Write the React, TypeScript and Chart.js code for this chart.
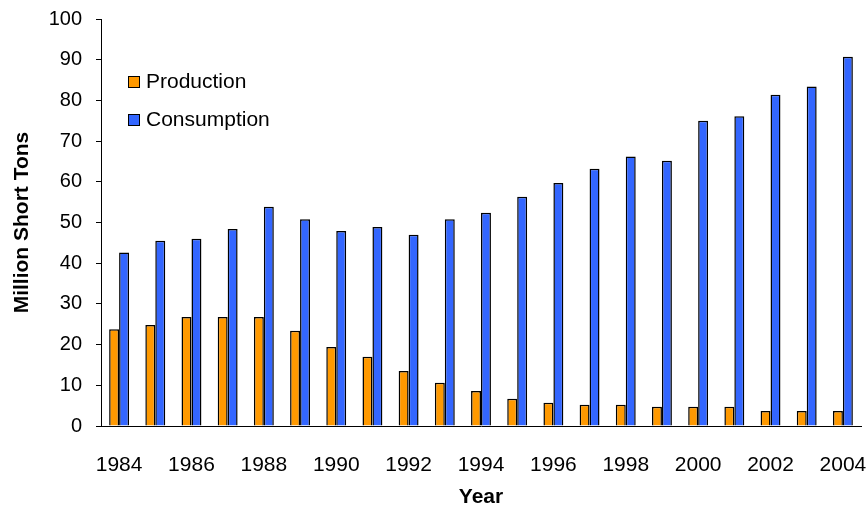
import React, { useEffect, useRef } from "react";
import { Chart, registerables } from "chart.js";

Chart.register(...registerables);

const years = [
  "1984", "1985", "1986", "1987", "1988", "1989", "1990", "1991", "1992", "1993", "1994",
  "1995", "1996", "1997", "1998", "1999", "2000", "2001", "2002", "2003", "2004",
];
const production = [
  23.8, 24.8, 26.8, 26.8, 26.8, 23.4, 19.4, 17.0, 13.5, 10.6, 8.6,
  6.7, 5.7, 5.2, 5.2, 4.7, 4.7, 4.7, 3.7, 3.7, 3.7,
];
const consumption = [
  42.6, 45.5, 46.0, 48.4, 53.9, 50.8, 47.9, 48.9, 47.0, 50.8, 52.4,
  56.3, 59.7, 63.2, 66.2, 65.2, 75.0, 76.1, 81.4, 83.4, 90.7,
];
const seriesNames = ["Production", "Consumption"];
const seriesColors = ["#FF9900", "#3366FF"];
const yMin = 0;
const yMax = 100;
const yStep = 10;
const xTitle = "Year";
const yTitle = "Million Short Tons";

const FONT = "'Liberation Sans', Arial, sans-serif";

const insideLegend = {
  id: "insideLegend",
  afterDraw(chart: any) {
    const ctx = chart.ctx;
    ctx.save();
    ctx.font = `21px ${FONT}`;
    ctx.textBaseline = "middle";
    ctx.textAlign = "left";
    chart.data.datasets.forEach((ds: any, i: number) => {
      const cy = 82 + i * 38;
      ctx.fillStyle = ds.backgroundColor;
      ctx.fillRect(128, cy - 6, 12, 12);
      ctx.strokeStyle = "#000";
      ctx.lineWidth = 1;
      ctx.strokeRect(128.5, cy - 5.5, 11, 11);
      ctx.fillStyle = "#000";
      ctx.fillText(ds.label, 146, cy);
    });
    ctx.restore();
  },
};

export default function App() {
  const ref = useRef<HTMLCanvasElement | null>(null);

  useEffect(() => {
    if (!ref.current) return;
    const chart = new Chart(ref.current, {
      type: "bar",
      data: {
        labels: years,
        datasets: [
          {
            label: seriesNames[0],
            data: production,
            backgroundColor: seriesColors[0],
            borderColor: "#000",
            borderWidth: 1.5,
            categoryPercentage: 0.55,
            barPercentage: 1,
          },
          {
            label: seriesNames[1],
            data: consumption,
            backgroundColor: seriesColors[1],
            borderColor: "#000",
            borderWidth: 1.5,
            categoryPercentage: 0.55,
            barPercentage: 1,
          },
        ],
      },
      options: {
        responsive: false,
        animation: false,
        layout: { padding: { top: 19, right: 5, left: 0, bottom: 0 } },
        plugins: {
          legend: { display: false },
          tooltip: { enabled: false },
        },
        scales: {
          x: {
            grid: { display: false },
            border: { display: true, color: "#000", width: 1 },
            ticks: {
              autoSkip: false,
              maxRotation: 0,
              minRotation: 0,
              padding: 19,
              color: "#000",
              font: { family: FONT, size: 21 },
              callback: (_v: any, i: number) => (i % 2 === 0 ? years[i] : ""),
            },
            title: {
              display: true,
              text: xTitle,
              color: "#000",
              font: { family: FONT, size: 21, weight: "bold", lineHeight: 1 },
              padding: 0,
            },
            afterFit: (s: any) => {
              s.height = 82;
              s.paddingLeft = 0;
              s.paddingRight = 0;
            },
          },
          y: {
            min: yMin,
            max: yMax,
            ticks: {
              stepSize: yStep,
              padding: 14,
              color: "#000",
              font: { family: FONT, size: 20 },
            },
            grid: {
              drawOnChartArea: false,
              drawTicks: true,
              tickLength: 5,
              color: "#000",
              lineWidth: 1,
            },
            border: { display: true, color: "#000", width: 1 },
            title: {
              display: true,
              text: yTitle,
              color: "#000",
              font: { family: FONT, size: 21, weight: "bold", lineHeight: 1 },
              padding: { top: 12, bottom: 0 },
            },
            afterFit: (s: any) => {
              s.width = 101;
              s.paddingTop = 0;
              s.paddingBottom = 0;
            },
          },
        },
      } as any,
      plugins: [insideLegend],
    });
    return () => chart.destroy();
  }, []);

  return (
    <div style={{ position: "absolute", left: 0, top: 0, width: 866, height: 508, background: "#fff" }}>
      <canvas ref={ref} width={866} height={508} style={{ width: 866, height: 508, display: "block" }} />
    </div>
  );
}
